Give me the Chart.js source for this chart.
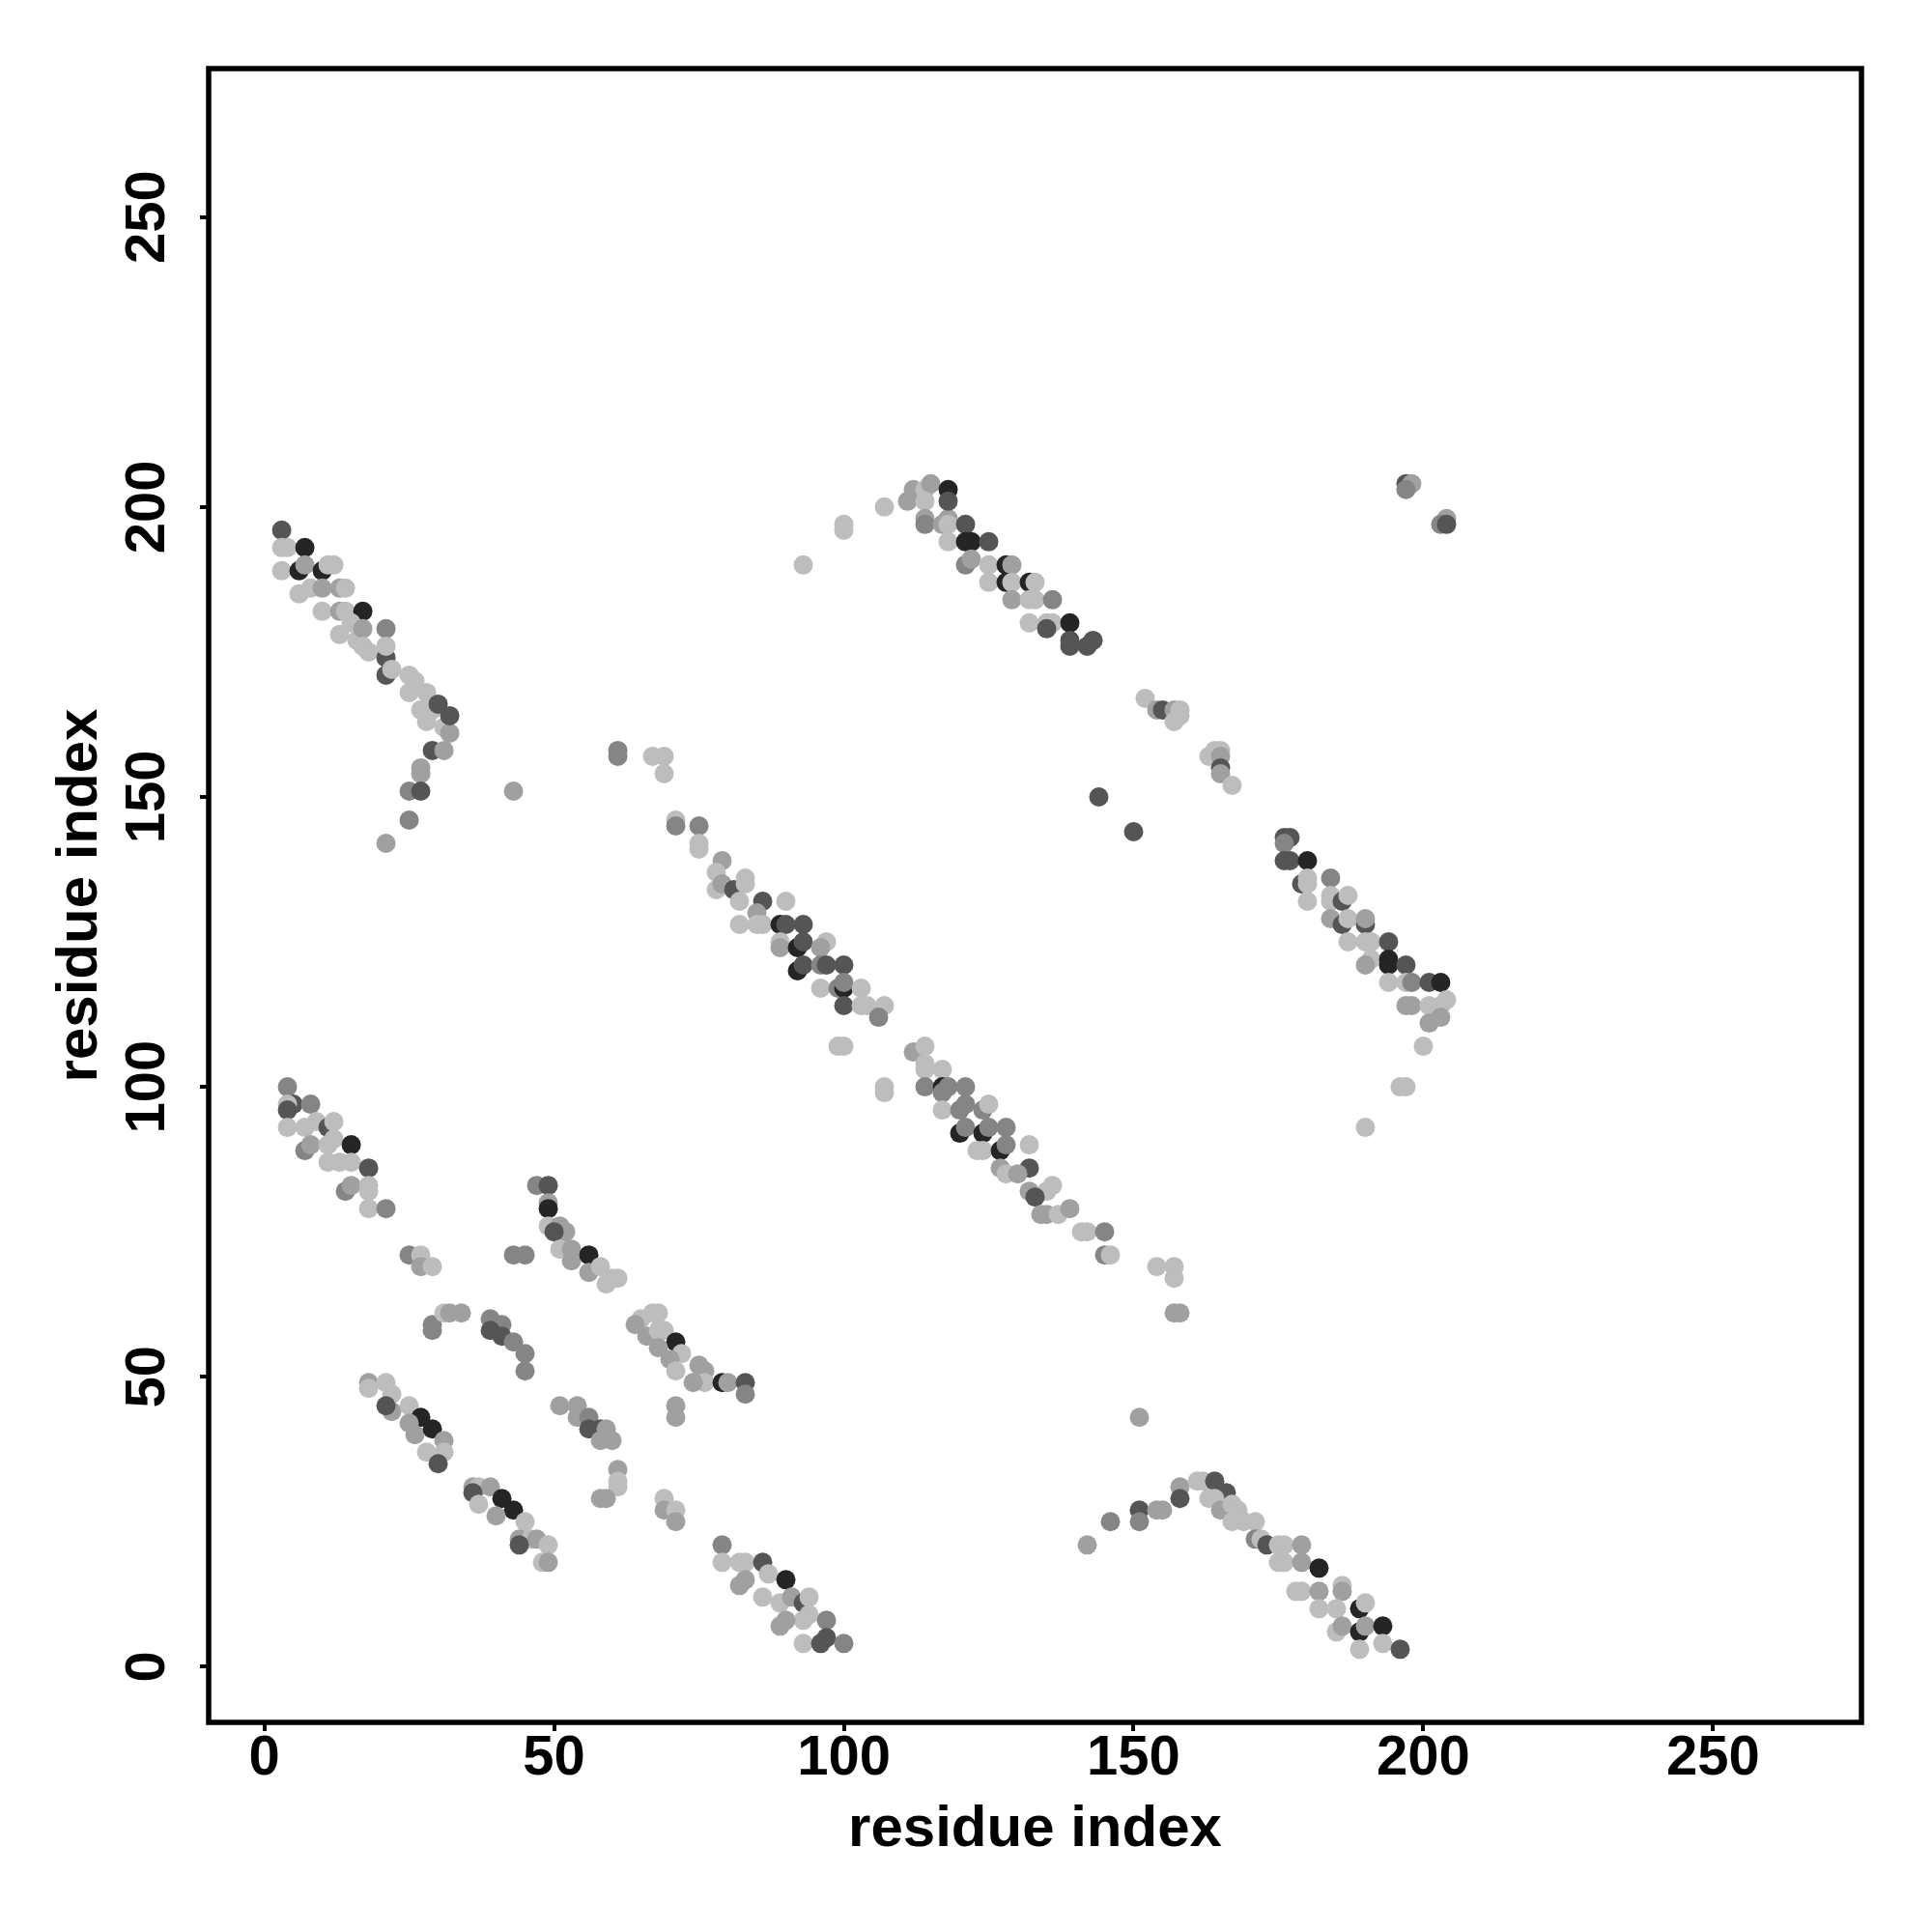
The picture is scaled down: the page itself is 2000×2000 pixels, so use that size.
<!DOCTYPE html>
<html>
<head>
<meta charset="utf-8">
<title>residue contact map</title>
<script src="https://cdn.jsdelivr.net/npm/chart.js@4.4.1/dist/chart.umd.min.js"></script>
<style>
  html, body { margin: 0; padding: 0; background: #fff; }
  #wrap { width: 2000px; height: 2000px; }
</style>
</head>
<body>
<div id="wrap"><canvas id="contactChart" width="2000" height="2000"></canvas></div>
<script>
// each entry: [residue i, residue j, contact level 1 (weak, light) .. 5 (strong, dark)]
const topLeftBand = [
  [3,196,4],[3,193,1],[4,193,1],[7,193,5],[3,189,1],[6,189,5],[7,190,2],[10,189,5],[11,190,1],[12,190,1],
  [6,185,1],[8,186,1],[10,186,2],[13,186,2],[14,186,1],[10,182,1],[13,182,2],[14,182,1],[17,182,5],
  [13,178,1],[15,180,1],[16,177,1],[17,179,2],[21,179,3],[17,176,1],[18,175,1],[21,174,4],[21,176,1],[21,171,4],[22,172,1],
  [25,171,1],[26,170,1],[28,168,1],[25,168,1],[27,165,1],[29,165,1],[28,163,1],[31,162,1],[32,161,2],[30,166,4],[32,164,4],
  [29,158,4],[31,158,2],[27,155,2],[27,154,2],[25,151,3],[27,151,4],[43,151,2],[25,146,3],[21,142,2]
];

const topMidBand = [
  [93,190,1],[100,197,1],[100,196,1],[107,200,1],
  [111,201,2],[112,203,2],[114,203,1],[115,204,2],[114,201,1],[114,198,2],[114,197,3],[117,197,2],[118,198,2],
  [118,197,1],[118,194,1],[118,203,5],[118,201,4],[121,197,4],[121,194,5],[122,194,5],[121,190,3],[122,191,2],
  [125,194,4],[125,190,1],[125,187,1],[128,190,5],[129,190,2],[128,187,5],[129,187,1],[129,184,2],
  [132,187,5],[133,187,1],[132,184,1],[133,184,1],[136,184,3],[132,180,1],[135,180,1],[136,180,1],[135,179,4],
  [139,180,5],[139,177,4],[139,176,4],[143,177,4],[142,176,4],
  [197,204,4],[198,204,2],[197,203,3],[204,198,2],[203,197,3],[204,197,4]
];

const middleBand = [
  [61,158,3],[61,157,3],[67,157,1],[69,157,1],[69,154,1],[71,146,1],[71,145,3],[75,145,3],[75,142,1],[75,141,1],
  [79,139,2],[78,137,1],[78,134,1],[79,135,2],[81,134,4],[83,136,1],[83,135,1],[82,132,1],[86,132,4],[85,130,2],[90,132,1],
  [82,128,1],[85,128,1],[86,128,1],[89,128,5],[90,128,4],[93,128,4],[89,125,1],[89,124,2],[92,124,5],[93,125,4],
  [97,125,1],[96,124,2],[92,120,5],[93,121,4],[96,121,3],[97,121,4],[100,121,4],[96,117,1],[99,117,3],[100,117,5],[100,118,3],
  [103,117,1],[100,114,4],[103,114,1],[104,114,1],[107,114,1],[106,112,3],
  [99,107,1],[100,107,1],[107,100,1],[107,99,1],[112,106,2],[114,107,1],[114,104,1],[114,103,1],[117,103,1],[114,100,3],
  [117,100,5],[118,100,3],[117,99,3],[121,100,3],[117,96,1],[120,96,3],[121,97,3],[124,96,3],[125,97,1],
  [120,92,5],[121,93,3],[124,92,5],[125,93,3],[128,93,3],[123,89,1],[124,89,1],[127,89,5],[128,90,3],[127,86,2],[128,85,1],
  [132,90,1],[132,86,4],[130,85,2],[132,82,2],[136,83,1],[135,82,1],[133,81,4],[134,78,2],[135,78,2],[137,78,1],[139,79,2],
  [141,75,1],[142,75,1],[145,75,3],[145,71,3],[146,71,1],[154,69,1],[157,69,1],[157,67,1],[157,61,2],[158,61,2]
];

const rightBand = [
  [152,167,1],[154,165,2],[155,165,4],[157,165,2],[158,165,1],[157,163,1],[158,164,1],
  [163,157,1],[164,158,1],[165,158,1],[165,157,2],[165,155,4],[165,154,2],[167,152,1],
  [144,150,4],[150,144,4],
  [176,143,4],[177,143,4],[176,142,3],[176,139,4],[177,139,4],[180,139,5],[179,135,4],[180,136,1],[180,135,1],[180,132,1],
  [184,136,3],[184,133,1],[184,132,1],[186,132,4],[187,133,1],[184,129,2],[186,128,4],[187,129,1],[190,128,4],[190,129,2],
  [187,125,1],[190,125,1],[191,125,1],[194,125,4],
  [191,122,1],[190,121,2],[194,122,5],[194,121,5],[197,121,4],[194,118,1],[197,118,1],[198,118,3],[201,118,4],[203,118,5],
  [197,114,2],[198,114,2],[201,114,1],[203,114,1],[204,115,1],[201,111,2],[203,112,2],[200,107,1],[196,100,1],[197,100,1],[190,93,1]
];

const lowerLeftBand = [
  [4,100,3],[5,97,4],[4,97,1],[4,96,4],[8,97,3],[4,93,1],[7,93,1],[9,94,1],[11,93,4],[12,94,1],
  [7,89,3],[8,90,2],[11,90,1],[12,91,1],[15,90,5],[11,87,1],[13,87,1],[15,87,1],[18,86,4],
  [14,82,3],[15,83,2],[18,83,1],[18,82,1],[18,79,1],[21,79,3],
  [25,71,3],[27,71,1],[27,69,2],[29,69,1],[43,71,3],[45,71,3],
  [47,83,3],[49,83,4],[49,80,2],[49,79,5],[49,76,1],[51,76,2],[52,75,2],[50,75,4],[51,72,1],[53,72,2],[53,70,2],
  [56,71,5],[56,68,2],[58,69,1],[59,66,1],[60,67,1],[61,67,1],
  [29,59,3],[29,58,3],[31,61,1],[32,61,2],[34,61,2],[39,60,3],[41,59,3],[39,58,4],[41,57,4],[43,56,3],[45,54,3],[45,51,3],
  [65,60,1],[67,61,1],[68,61,1],[64,59,2],[66,57,2],[68,58,1],[69,58,1],[71,56,5],[68,55,2],[72,54,1],[70,53,2],
  [75,52,2],[76,51,2],[71,51,1],[76,49,1],[74,49,2],[79,49,5],[80,49,2],[83,49,4],[83,47,3],[71,45,2],[71,43,2]
];

const bottomBand = [
  [18,49,2],[18,48,1],[21,49,1],[22,47,1],[22,44,2],[21,45,4],[25,45,1],[27,43,5],[25,42,2],[26,40,2],[29,41,5],
  [31,39,2],[31,37,1],[28,37,1],[30,35,4],
  [51,45,2],[54,45,2],[54,43,2],[56,43,3],[56,41,4],[58,41,4],[59,41,2],[58,39,2],[60,39,2],
  [61,34,2],[61,32,1],[61,31,1],[58,29,2],[59,29,2],[69,29,1],[69,27,2],[71,27,1],[71,25,2],
  [36,31,2],[37,31,1],[39,31,2],[36,30,4],[37,28,1],[41,29,5],[43,27,5],[40,26,2],[45,25,1],
  [44,22,2],[46,22,1],[47,22,2],[49,21,1],[44,21,4],[48,18,1],[49,18,2],
  [79,21,3],[79,18,1],[82,18,1],[83,18,1],[86,18,4],[87,16,1],[90,15,5],[83,15,2],[82,14,2],[86,12,1],[89,11,1],
  [91,12,2],[93,11,4],[94,12,1],[94,9,1],[93,8,1],[89,7,2],[90,8,2],[97,8,3],[93,4,1],[96,4,4],[97,5,4],[100,4,3],
  [151,43,2],[142,21,2],[146,25,3],[151,27,4],[151,25,3],[154,27,2],[155,27,2],[158,31,2],[158,29,4],
  [161,32,1],[162,32,1],[164,32,4],[166,30,4],[163,29,1],[164,29,1],[165,27,2],[167,28,1],[168,27,1],
  [167,25,1],[169,25,1],[171,25,1],[171,22,3],[172,22,1],[173,21,4],[175,21,1],[176,21,1],[179,21,2],
  [175,18,1],[176,18,1],[179,18,2],[182,17,5],[178,13,1],[179,13,1],[182,13,2],[186,14,1],[186,13,2],
  [182,10,1],[185,10,1],[189,10,5],[190,11,1],[185,6,1],[186,7,2],[189,6,5],[190,7,2],[193,7,5],[189,3,1],[193,4,1],[196,3,4]
];

const axisTicks = [0, 50, 100, 150, 200, 250];
const axisLabel = 'residue index';

const greyLevels = ['#bdbdbd', '#a0a0a0', '#858585', '#555555', '#252525'];
const fontFamily = '"Liberation Sans", Arial, Helvetica, sans-serif';

const allContacts = [].concat(topLeftBand, topMidBand, middleBand, rightBand, lowerLeftBand, bottomBand);
const points = allContacts.map(function (c) { return { x: c[0], y: c[1] }; });
const colours = allContacts.map(function (c) { return greyLevels[c[2] - 1]; });

// frame around plot + rotated y tick labels (R style)
const framePlugin = {
  id: 'framePlugin',
  afterDraw: function (chart) {
    const ctx = chart.ctx;
    const a = chart.chartArea;
    ctx.save();
    ctx.strokeStyle = '#000';
    ctx.lineWidth = 5.5;
    ctx.strokeRect(a.left, a.top, a.right - a.left, a.bottom - a.top);

    const ys = chart.scales.y;
    ctx.fillStyle = '#000';
    ctx.font = 'bold 58px ' + fontFamily;
    ctx.textAlign = 'center';
    ctx.textBaseline = 'alphabetic';
    ys.ticks.forEach(function (t) {
      const py = ys.getPixelForValue(t.value);
      ctx.save();
      ctx.translate(170, py);
      ctx.rotate(-Math.PI / 2);
      ctx.fillText(String(t.value), 0, 0);
      ctx.restore();
    });
    ctx.restore();
  }
};

const ctx = document.getElementById('contactChart').getContext('2d');
const contactChart = new Chart(ctx, {
  type: 'scatter',
  data: {
    datasets: [{
      data: points,
      backgroundColor: colours,
      borderWidth: 0,
      pointRadius: 10,
      pointHoverRadius: 10
    }]
  },
  options: {
    responsive: false,
    animation: false,
    devicePixelRatio: 1,
    layout: { padding: { left: 0, top: 71, right: 73, bottom: 0 } },
    plugins: {
      legend: { display: false },
      tooltip: { enabled: false }
    },
    scales: {
      x: {
        type: 'linear',
        min: -9.6,
        max: 275.6,
        afterFit: function (s) { s.height = 217; },
        afterBuildTicks: function (s) { s.ticks = axisTicks.map(function (v) { return { value: v }; }); },
        border: { display: false },
        grid: { display: true, drawOnChartArea: false, drawTicks: true, tickLength: 9, lineWidth: 4, color: '#000' },
        ticks: {
          color: '#000',
          maxRotation: 0,
          padding: 0,
          font: { family: fontFamily, size: 58, weight: 'bold', lineHeight: 1 }
        },
        title: {
          display: true,
          text: axisLabel,
          color: '#000',
          padding: { top: 0, bottom: 70 },
          font: { family: fontFamily, size: 60, weight: 'bold', lineHeight: 1.2 }
        }
      },
      y: {
        type: 'linear',
        min: -9.6,
        max: 275.6,
        afterFit: function (s) { s.width = 216; },
        afterBuildTicks: function (s) { s.ticks = axisTicks.map(function (v) { return { value: v }; }); },
        border: { display: false },
        grid: { display: true, drawOnChartArea: false, drawTicks: true, tickLength: 9, lineWidth: 4, color: '#000' },
        ticks: { display: false },
        title: {
          display: true,
          text: axisLabel,
          color: '#000',
          padding: { top: 47, bottom: 0 },
          font: { family: fontFamily, size: 60, weight: 'bold', lineHeight: 1.2 }
        }
      }
    }
  },
  plugins: [framePlugin]
});
</script>
</body>
</html>
